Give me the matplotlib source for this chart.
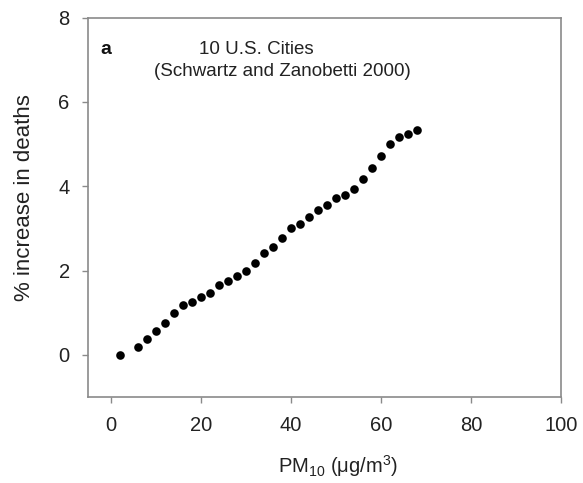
import matplotlib
matplotlib.use("Agg")
import matplotlib.pyplot as plt

plt.rcParams['font.family'] = ['Liberation Sans', 'DejaVu Sans']
plt.rcParams['mathtext.fontset'] = 'custom'
plt.rcParams['mathtext.rm'] = 'Liberation Sans'
plt.rcParams['mathtext.it'] = 'Liberation Sans'

pm10 = [2, 6, 8, 10, 12, 14, 16, 18, 20, 22, 24, 26, 28, 30, 32, 34, 36, 38,
        40, 42, 44, 46, 48, 50, 52, 54, 56, 58, 60, 62, 64, 66, 68]
pct_increase = [0.0, 0.19, 0.38, 0.56, 0.75, 1.0, 1.19, 1.26, 1.38, 1.46, 1.65,
                1.75, 1.86, 1.99, 2.19, 2.42, 2.55, 2.77, 3.0, 3.1, 3.28, 3.44,
                3.55, 3.72, 3.80, 3.94, 4.16, 4.44, 4.71, 4.99, 5.17, 5.25, 5.34]
x_ticks = [0, 20, 40, 60, 80, 100]
y_ticks = [0, 2, 4, 6, 8]

fig = plt.figure(figsize=(5.83, 4.83), dpi=100)
ax = fig.add_axes([0.1504, 0.178, 0.8120, 0.7856])
ax.plot(pm10, pct_increase, 'o', color='black', markersize=6.2, markeredgewidth=0)
ax.set_xlim(-5.2, 100)
ax.set_ylim(-1, 8)
ax.set_xticks(x_ticks)
ax.set_yticks(y_ticks)
for s in ax.spines.values():
    s.set_color('#8a8a8a')
    s.set_linewidth(1.2)
ax.tick_params(axis='both', direction='out', color='#8a8a8a', width=1.0,
               length=4, labelsize=14.5, labelcolor='#222222')
ax.tick_params(axis='x', pad=10)
ax.tick_params(axis='y', pad=9)

fig.text(25 / 583, 1 - 198 / 483, '% increase in deaths', fontsize=16,
         color='#222222', rotation=90, ha='center', va='center')
fig.text(338 / 583, 1 - 466 / 483, r'PM$_{10}$ ($\mu$g/m$^{3}$)', fontsize=14.5,
         color='#222222', ha='center', va='center')

ax.text(100 / 583, 1 - 50 / 483, 'a', transform=fig.transFigure, fontsize=14, fontweight='bold',
        ha='left', va='center', color='#111111')
ax.text(199 / 583, 1 - 50 / 483, '10 U.S. Cities', transform=fig.transFigure,
        fontsize=13.5, ha='left', va='center', color='#222222')
ax.text(154 / 583, 1 - 71 / 483, '(Schwartz and Zanobetti 2000)', transform=fig.transFigure,
        fontsize=13.5, ha='left', va='center', color='#222222')

fig.savefig('out.png', dpi=100)
